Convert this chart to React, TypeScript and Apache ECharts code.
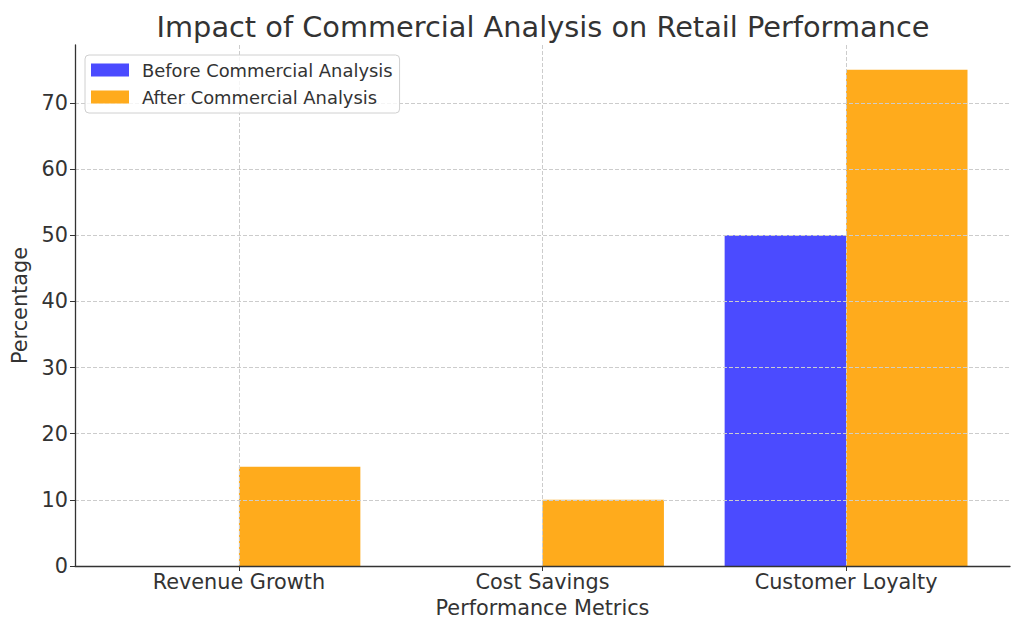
import React, { useEffect, useRef } from "react";
import * as echarts from "echarts";

const categories = ["Revenue Growth", "Cost Savings", "Customer Loyalty"];
const beforeValues = [0, 0, 50];
const afterValues = [15, 10, 75];
const yTicks = [0, 10, 20, 30, 40, 50, 60, 70];
const seriesNames = ["Before Commercial Analysis", "After Commercial Analysis"];

const FONT = "DejaVu Sans";
const TEXT = "#333333";

export default function App() {
  const ref = useRef<HTMLDivElement>(null);
  useEffect(() => {
    const chart = echarts.init(ref.current!, null, { renderer: "svg" });
    const barW = 0.4;
    const makeRender = (offset: number) => (params: any, api: any) => {
      const x = api.value(0);
      const y = api.value(1);
      const p1 = api.coord([x + offset, y]);
      const p2 = api.coord([x + offset + barW, 0]);
      return {
        type: "rect",
        shape: { x: p1[0], y: p1[1], width: p2[0] - p1[0], height: p2[1] - p1[1] },
        style: { fill: api.visual("color") },
      };
    };
    const idx = categories.map((_, i) => i);
    chart.setOption({
      animation: false,
      title: {
        text: "Impact of Commercial Analysis on Retail Performance",
        left: 538,
        textAlign: "center",
        top: 7,
        textStyle: { fontFamily: FONT, fontSize: 28.8, fontWeight: "normal", color: TEXT },
      },
      legend: {
        orient: "vertical",
        left: 85,
        top: 55,
        z: 10,
        padding: [6, 7, 7, 6],
        itemGap: 9,
        itemWidth: 38,
        itemHeight: 13,
        borderColor: "#d0d0d0",
        borderWidth: 1,
        borderRadius: 4,
        backgroundColor: "rgba(255,255,255,0.8)",
        textStyle: { fontFamily: FONT, fontSize: 17.9, color: TEXT, padding: [0, 0, 0, 8] },
        data: seriesNames.map((n) => ({ name: n, icon: "rect" })),
      },
      grid: { left: 75, right: 14, top: 45, bottom: 69 },
      xAxis: {
        type: "value",
        min: -0.54,
        max: 2.54,
        z: 5,
        name: "Performance Metrics",
        nameLocation: "middle",
        nameGap: 31,
        nameTextStyle: { fontFamily: FONT, fontSize: 20.8, color: TEXT },
        axisLine: { show: true, onZero: false, lineStyle: { color: "#333", width: 1.3 } },
        axisTick: { show: true, length: 5, customValues: idx, lineStyle: { color: "#333" } },
        axisLabel: {
          customValues: idx,
          fontFamily: FONT,
          fontSize: 20.8,
          color: TEXT,
          margin: 5,
          formatter: (v: number) => categories[Math.round(v)] ?? "",
        },
        splitLine: { show: true, lineStyle: { color: "#cccccc", type: [4, 2], width: 1 } },
      },
      yAxis: {
        type: "value",
        min: 0,
        max: 78.75,
        z: 5,
        name: "Percentage",
        nameLocation: "middle",
        nameGap: 38,
        nameTextStyle: { fontFamily: FONT, fontSize: 20.8, color: TEXT },
        axisLine: { show: true, onZero: false, lineStyle: { color: "#333", width: 1.3 } },
        axisTick: { show: true, length: 5, customValues: yTicks, lineStyle: { color: "#333" } },
        axisLabel: {
          customValues: yTicks,
          fontFamily: FONT,
          fontSize: 20.8,
          color: TEXT,
          margin: 7,
        },
        splitLine: { show: true, lineStyle: { color: "#cccccc", type: [4, 2], width: 1 } },
      },
      series: [
        {
          type: "custom",
          name: seriesNames[0],
          itemStyle: { color: "#4b4bff" },
          renderItem: makeRender(-barW),
          encode: { x: 0, y: 1 },
          data: beforeValues.map((v, i) => [i, v]),
        },
        {
          type: "custom",
          name: seriesNames[1],
          itemStyle: { color: "#ffab1c" },
          renderItem: makeRender(0),
          encode: { x: 0, y: 1 },
          data: afterValues.map((v, i) => [i, v]),
        },
      ],
    });
    return () => chart.dispose();
  }, []);
  return <div ref={ref} style={{ width: 1024, height: 635, position: "absolute", left: 0, top: 0 }} />;
}
